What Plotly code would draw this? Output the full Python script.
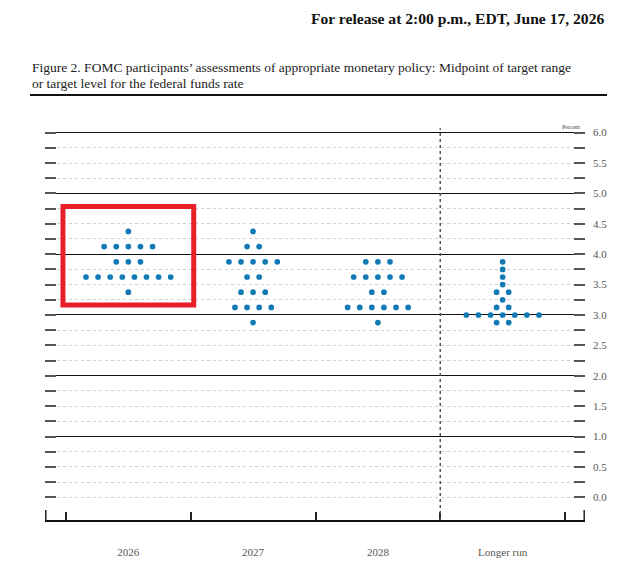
import plotly.graph_objects as go

# ---- data ----
categories = ["2026", "2027", "2028", "Longer run"]
rates_2026 = [4.375, 4.125, 3.875, 3.625, 3.375]
counts_2026 = [1, 5, 3, 8, 1]
rates_2027 = [4.375, 4.125, 3.875, 3.625, 3.375, 3.125, 2.875]
counts_2027 = [1, 2, 5, 2, 3, 4, 1]
rates_2028 = [3.875, 3.625, 3.375, 3.125, 2.875]
counts_2028 = [3, 5, 2, 6, 1]
rates_lr = [3.875, 3.75, 3.625, 3.5, 3.375, 3.25, 3.125, 3.0, 2.875]
counts_lr = [1, 1, 1, 1, 2, 1, 2, 7, 2]

y_ticks = [i * 0.25 for i in range(25)]
y_labels = [f"{v:.1f}" if abs(v * 2 - round(v * 2)) < 1e-9 else "" for v in y_ticks]

W, H = 637, 566
def px(x):
    return x / W
def py(y):
    return 1 - y / H

DOT = "#1179b3"
STEP = 0.097

xs, ys = [], []
for ci, (rates, counts) in enumerate([(rates_2026, counts_2026), (rates_2027, counts_2027),
                                      (rates_2028, counts_2028), (rates_lr, counts_lr)]):
    for r, n in zip(rates, counts):
        for i in range(n):
            xs.append(ci + (i - (n - 1) / 2) * STEP)
            ys.append(r)

fig = go.Figure()
fig.add_trace(go.Scatter(x=xs, y=ys, mode="markers",
                         marker=dict(color=DOT, size=5.7, line=dict(width=0)),
                         hoverinfo="skip", showlegend=False))
# dummy traces for overlay axes
fig.add_trace(go.Scatter(x=[0], y=[0], yaxis="y2", mode="markers", marker=dict(opacity=0), showlegend=False, hoverinfo="skip"))
fig.add_trace(go.Scatter(x=[0], y=[0], yaxis="y3", mode="markers", marker=dict(opacity=0), showlegend=False, hoverinfo="skip"))
fig.add_trace(go.Scatter(x=[0], y=[0], xaxis="x2", mode="markers", marker=dict(opacity=0), showlegend=False, hoverinfo="skip"))

XR = [-0.668, 3.66]
YR = [-0.372, 6.125]
xdom = [px(45), px(585)]
ydom = [py(520), py(125)]
SERIF = "Liberation Serif, DejaVu Serif, serif"

fig.update_layout(
    width=W, height=H,
    margin=dict(l=0, r=0, t=0, b=0),
    paper_bgcolor="white", plot_bgcolor="white",
    font=dict(family=SERIF, color="#333"),
    xaxis=dict(domain=xdom, range=XR, showgrid=False, zeroline=False,
               tickvals=[-0.5, 0.5, 1.5, 2.5, 3.5], ticktext=[""] * 5,
               ticks="inside", ticklen=8, tickwidth=1.5, tickcolor="#222",
               showline=True, linecolor="#111", linewidth=1.8, anchor="y"),
    xaxis2=dict(domain=xdom, range=XR, overlaying="x", anchor="y", side="bottom",
                showgrid=False, zeroline=False, showline=False,
                tickvals=[0, 1, 2, 3], ticktext=categories,
                ticks="outside", ticklen=22, tickcolor="rgba(0,0,0,0)",
                tickfont=dict(size=11, color="#555", family=SERIF)),
    yaxis=dict(domain=ydom, range=YR, tickvals=y_ticks, ticktext=[""] * len(y_ticks),
               ticks="inside", ticklen=11, tickwidth=1.5, tickcolor="#555",
               showgrid=True, gridcolor="#cfcfcf", griddash="dot", gridwidth=1,
               zeroline=False, showline=False, anchor="x"),
    yaxis2=dict(domain=ydom, range=YR, overlaying="y", side="right", anchor="x",
                tickvals=y_ticks, ticktext=y_labels,
                ticks="inside", ticklen=11, tickwidth=1.5, tickcolor="#555",
                ticklabelstandoff=7,
                showgrid=False, zeroline=False, showline=False,
                tickfont=dict(size=11, color="#555", family=SERIF)),
    yaxis3=dict(domain=ydom, range=YR, overlaying="y", anchor="x",
                tickvals=[1, 2, 3, 4, 5, 6], showticklabels=False, ticks="",
                showgrid=True, gridcolor="#111", gridwidth=1.4, zeroline=False),
)

shapes = [
    dict(type="line", xref="x", yref="y", x0=2.5, x1=2.5, y0=YR[0], y1=6.07,
         line=dict(color="#555", width=1.5, dash="dot"), layer="above"),
    dict(type="rect", xref="x", yref="y", x0=-0.524, x1=0.524, y0=3.165, y1=4.785,
         line=dict(color="#e8202a", width=5), layer="above"),
    dict(type="line", xref="paper", yref="paper", x0=px(30), x1=px(607), y0=py(95), y1=py(95),
         line=dict(color="#111", width=2)),
    dict(type="line", xref="paper", yref="paper", x0=px(45.8), x1=px(45.8), y0=py(520), y1=py(510),
         line=dict(color="#222", width=1.5)),
    dict(type="line", xref="paper", yref="paper", x0=px(584.2), x1=px(584.2), y0=py(520), y1=py(510),
         line=dict(color="#222", width=1.5)),
]
fig.update_layout(shapes=shapes)

ann = [
    dict(text="<b>For release at 2:00 p.m., EDT, June 17, 2026</b>", x=px(606), y=py(18),
         xanchor="right", yanchor="middle", font=dict(size=15.6, color="#111", family=SERIF)),
    dict(text="Figure 2. FOMC participants\u2019 assessments of appropriate monetary policy: Midpoint of target range",
         x=px(30), y=py(68), xanchor="left", yanchor="middle", font=dict(size=13.5, color="#222", family=SERIF)),
    dict(text="or target level for the federal funds rate",
         x=px(30), y=py(84), xanchor="left", yanchor="middle", font=dict(size=13.5, color="#222", family=SERIF)),
    dict(text="Percent", x=px(582), y=py(127), xanchor="right", yanchor="middle",
         font=dict(size=6, color="#444", family=SERIF)),
]
for a in ann:
    a.update(xref="paper", yref="paper", showarrow=False)
fig.update_layout(annotations=ann)

fig.write_html("out.html", config={"displayModeBar": False},
               post_script="document.body.style.margin='0';")
